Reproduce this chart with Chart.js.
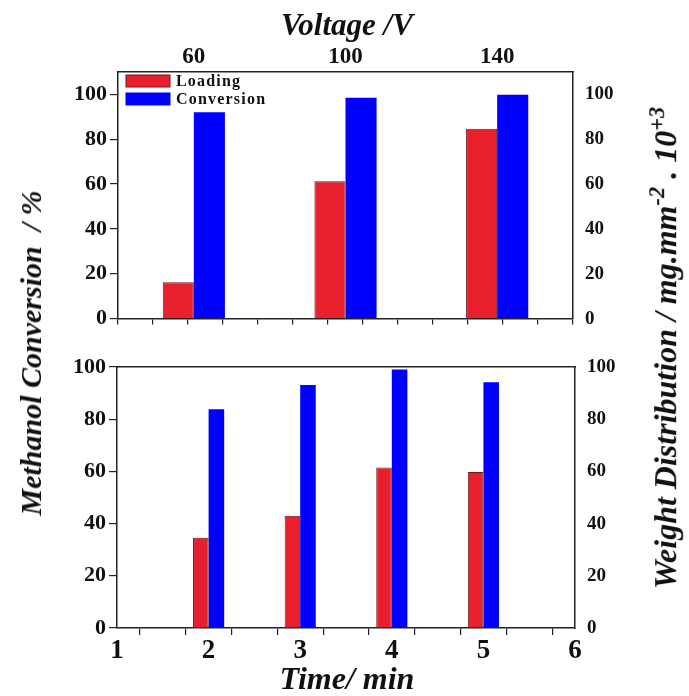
<!DOCTYPE html>
<html>
<head>
<meta charset="utf-8">
<script src="https://cdn.jsdelivr.net/npm/chart.js@4.4.1/dist/chart.umd.min.js"></script>
<style>
  html, body { margin: 0; padding: 0; background: #fff; }
  #wrap { position: relative; width: 689px; height: 696px; overflow: hidden; }
  canvas { position: absolute; left: 0; }
  .ttl {
    position: absolute;
    font-family: "Liberation Serif", "Times New Roman", serif;
    font-weight: bold;
    font-style: italic;
    font-size: 31px;
    white-space: nowrap;
    color: #111;
    transform: translate(-50%, -50%);
  }
  .rot { transform: translate(-50%, -50%) rotate(-90deg); }
  sup { font-size: 0.7em; }
</style>
</head>
<body>
<div id="wrap">
  <canvas id="top" style="top:0"></canvas>
  <canvas id="bottom" style="top:335px"></canvas>
  <div class="ttl" style="left:347px; top:25px">Voltage /V</div>
  <div class="ttl" style="left:347px; top:678px; font-size:32px">Time/ min</div>
  <div class="ttl rot" style="left:31px; top:353px; font-size:30px">Methanol Conversion&nbsp; / %</div>
  <div class="ttl rot" style="left:664px; top:348px; font-size:32px">Weight Distribution / mg.mm<sup>-2</sup> . 10<sup>+3</sup></div>
</div>
<script>
"use strict";

// data
const voltages = ["60", "100", "140"];
const voltLoading = [16.2, 61.3, 84.7];
const voltConversion = [92.1, 98.5, 99.9];

const times = [2, 3, 4, 5];
const timeLoading = [34.6, 43.0, 61.5, 59.8];
const timeConversion = [83.8, 93.1, 99.0, 94.2];

const seriesNames = ["Loading", "Conversion"];
const redFill = "#e8202e";
const blueFill = "#0000ff";

const serif = "'Liberation Serif', 'Times New Roman', serif";
const tickFont = { family: serif, weight: "bold", size: 22 };
const rightFont = { family: serif, weight: "bold", size: 19 };
const axisLine = { display: true, color: "#222", width: 1.5 };

function leftLabel(v) {
  return v % 20 === 0 && v <= 100 ? v : "";
}

// legend drawn inside the top plot
const innerLegend = {
  id: "innerLegend",
  afterDraw(chart) {
    const ctx = chart.ctx;
    const area = chart.chartArea;
    ctx.save();
    ctx.font = "bold 16px " + serif;
    ctx.letterSpacing = "1.2px";
    ctx.textBaseline = "middle";
    chart.data.datasets.forEach((ds, i) => {
      const y = area.top + 9 + i * 18;
      ctx.fillStyle = ds.backgroundColor;
      ctx.fillRect(area.left + 8, y - 6, 44, 12);
      ctx.strokeStyle = ds.borderColor;
      ctx.lineWidth = 1;
      ctx.strokeRect(area.left + 8, y - 6, 44, 12);
      ctx.fillStyle = "#111";
      ctx.fillText(ds.label, area.left + 58, y + 1);
    });
    ctx.restore();
  },
};

function makeTop() {
  const canvas = document.getElementById("top");
  canvas.width = 689;
  canvas.height = 342;
  const data = {
    labels: voltages,
    datasets: [
      {
        label: seriesNames[0],
        data: voltLoading,
        backgroundColor: redFill,
        borderColor: "#6b1a1a",
        borderWidth: 1,
        yAxisID: "y",
      },
      {
        label: seriesNames[1],
        data: voltConversion,
        backgroundColor: blueFill,
        borderColor: blueFill,
        borderWidth: 0,
        yAxisID: "y",
      },
    ],
  };
  return new Chart(canvas, {
    type: "bar",
    data: data,
    plugins: [innerLegend],
    options: {
      responsive: false,
      animation: false,
      layout: { padding: 0 },
      datasets: { bar: { categoryPercentage: 0.41, barPercentage: 1 } },
      plugins: { legend: { display: false }, tooltip: { enabled: false } },
      scales: {
        x: {
          position: "top",
          grid: { display: false, drawTicks: false },
          border: axisLine,
          ticks: { font: { family: serif, weight: "bold", size: 23 }, color: "#111", padding: 1 },
          afterFit: (s) => { s.height = 72; },
        },
        xb: {
          type: "linear",
          position: "bottom",
          min: 0,
          max: 12,
          ticks: { display: false, stepSize: 1 },
          grid: { drawOnChartArea: false, tickLength: 6, color: "#222", lineWidth: 1.2 },
          border: axisLine,
          afterFit: (s) => { s.height = 9; },
        },
        y: {
          position: "left",
          min: 0,
          max: 110,
          ticks: { stepSize: 10, font: tickFont, color: "#111", padding: 3, callback: leftLabel },
          grid: {
            drawOnChartArea: false,
            tickLength: 8,
            lineWidth: 1.2,
            color: (c) => (c.tick && c.tick.value > 100 ? "rgba(0,0,0,0)" : "#222"),
          },
          border: axisLine,
          afterFit: (s) => { s.width = 118; },
        },
        y2: {
          position: "right",
          min: 0,
          max: 110,
          ticks: { stepSize: 10, font: rightFont, color: "#111", padding: 12, callback: leftLabel },
          grid: { display: false, drawTicks: false },
          border: axisLine,
          afterFit: (s) => { s.width = 116; },
        },
      },
    },
  });
}

function makeBottom() {
  const canvas = document.getElementById("bottom");
  canvas.width = 689;
  canvas.height = 361;
  const data = {
    datasets: [
      {
        label: seriesNames[0],
        data: times.map((t, i) => ({ x: t, y: timeLoading[i] })),
        backgroundColor: redFill,
        borderColor: "#6b1a1a",
        borderWidth: 1,
      },
      {
        label: seriesNames[1],
        data: times.map((t, i) => ({ x: t, y: timeConversion[i] })),
        backgroundColor: blueFill,
        borderColor: blueFill,
        borderWidth: 0,
      },
    ],
  };
  return new Chart(canvas, {
    type: "bar",
    data: data,
    options: {
      responsive: false,
      animation: false,
      layout: { padding: { top: 32 } },
      datasets: { bar: { categoryPercentage: 0.68, barPercentage: 1 } },
      plugins: { legend: { display: false }, tooltip: { enabled: false } },
      scales: {
        x: {
          type: "linear",
          position: "bottom",
          min: 1,
          max: 6,
          offset: false,
          ticks: {
            stepSize: 0.5,
            font: { family: serif, weight: "bold", size: 27 },
            color: "#111",
            padding: 0,
            callback: (v) => (Number.isInteger(v) ? v : ""),
          },
          grid: { drawOnChartArea: false, tickLength: 7, color: "#222", lineWidth: 1.2 },
          border: axisLine,
          afterFit: (s) => { s.height = 68; },
        },
        xt: {
          type: "linear",
          position: "top",
          min: 1,
          max: 6,
          ticks: { display: false },
          grid: { display: false, drawTicks: false },
          border: axisLine,
          afterFit: (s) => { s.height = 0; },
        },
        y: {
          position: "left",
          min: 0,
          max: 100,
          ticks: { stepSize: 10, font: tickFont, color: "#111", padding: 3, callback: leftLabel },
          grid: { drawOnChartArea: false, tickLength: 8, color: "#222", lineWidth: 1.2 },
          border: axisLine,
          afterFit: (s) => { s.width = 117; },
        },
        y2: {
          position: "right",
          min: 0,
          max: 100,
          ticks: { stepSize: 20, font: rightFont, color: "#111", padding: 12 },
          grid: { display: false, drawTicks: false },
          border: axisLine,
          afterFit: (s) => { s.width = 114; },
        },
      },
    },
  });
}

makeTop();
makeBottom();
</script>
</body>
</html>
